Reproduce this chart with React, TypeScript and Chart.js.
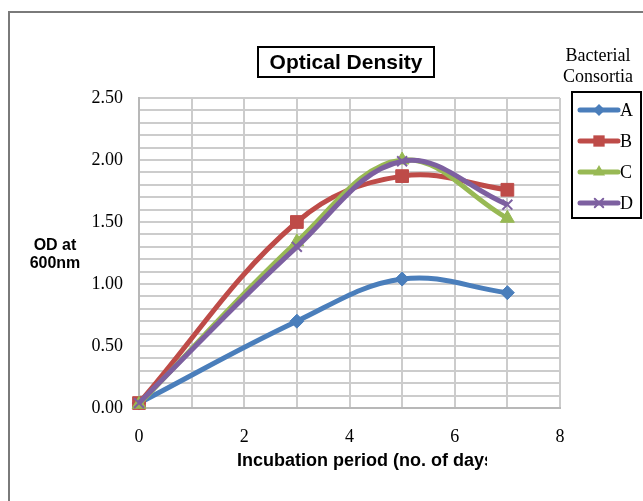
import React, { useEffect, useRef } from "react";
import { Chart, registerables } from "chart.js";

Chart.register(...registerables);

const days = [0, 3, 5, 7];
const seriesNames = ["A", "B", "C", "D"];
const seriesA = [0.04, 0.7, 1.04, 0.93];
const seriesB = [0.04, 1.5, 1.87, 1.76];
const seriesC = [0.03, 1.34, 2.0, 1.53];
const seriesD = [0.04, 1.3, 1.99, 1.64];
const colors = ["#4A7EBB", "#BE4B48", "#98B954", "#7D60A0"];
const pointStyles = ["rectRot", "rect", "triangle", "crossRot"];
const pointRadii = [7, 9, 8, 7];
const chartTitle = "Optical Density";
const legendTitle = ["Bacterial", "Consortia"];
const yTitle = ["OD at", "600nm"];
const xTitle = "Incubation period (no. of days)";

const SANS = "'Liberation Sans', Arial, sans-serif";
const SERIF = "'Liberation Serif', 'Times New Roman', serif";

function drawMarker(ctx: CanvasRenderingContext2D, style: string, x: number, y: number, r: number, color: string) {
  ctx.save();
  ctx.fillStyle = color;
  ctx.strokeStyle = color;
  ctx.lineWidth = 2;
  ctx.beginPath();
  if (style === "rectRot") {
    ctx.moveTo(x, y - r);
    ctx.lineTo(x + r, y);
    ctx.lineTo(x, y + r);
    ctx.lineTo(x - r, y);
    ctx.closePath();
    ctx.fill();
  } else if (style === "rect") {
    const s = r * Math.SQRT1_2;
    ctx.rect(x - s, y - s, 2 * s, 2 * s);
    ctx.fill();
  } else if (style === "triangle") {
    ctx.moveTo(x, y - r);
    ctx.lineTo(x + r * 0.866, y + r * 0.5);
    ctx.lineTo(x - r * 0.866, y + r * 0.5);
    ctx.closePath();
    ctx.fill();
  } else {
    const s = r * Math.SQRT1_2;
    ctx.moveTo(x - s, y - s);
    ctx.lineTo(x + s, y + s);
    ctx.moveTo(x + s, y - s);
    ctx.lineTo(x - s, y + s);
    ctx.stroke();
  }
  ctx.restore();
}

const decorPlugin = {
  id: "decor",
  afterDraw(chart: any) {
    const ctx: CanvasRenderingContext2D = chart.ctx;
    ctx.save();
    // outer frame (left and top)
    ctx.strokeStyle = "#7a7a7a";
    ctx.lineWidth = 2;
    ctx.beginPath();
    ctx.moveTo(9, 501);
    ctx.lineTo(9, 12);
    ctx.lineTo(643, 12);
    ctx.stroke();

    // title box
    ctx.strokeStyle = "#000";
    ctx.lineWidth = 2;
    ctx.strokeRect(258, 47, 176, 30);
    ctx.fillStyle = "#000";
    ctx.font = `bold 21px ${SANS}`;
    ctx.textAlign = "center";
    ctx.textBaseline = "middle";
    ctx.fillText(chartTitle, 346, 63);

    // legend title
    ctx.font = `18px ${SERIF}`;
    ctx.fillText(legendTitle[0], 598, 56);
    ctx.fillText(legendTitle[1], 598, 77);

    // legend box
    ctx.strokeRect(572, 92, 69, 126);
    for (let i = 0; i < seriesNames.length; i++) {
      const y = 110 + i * 31;
      ctx.strokeStyle = colors[i];
      ctx.lineWidth = 5;
      ctx.lineCap = "round";
      ctx.beginPath();
      ctx.moveTo(580, y);
      ctx.lineTo(618, y);
      ctx.stroke();
      drawMarker(ctx, pointStyles[i], 599, y, pointRadii[i] - 1, colors[i]);
      ctx.fillStyle = "#000";
      ctx.font = `18px ${SERIF}`;
      ctx.textAlign = "left";
      ctx.fillText(seriesNames[i], 620, y + 1);
    }

    // y axis title
    ctx.font = `bold 16px ${SANS}`;
    ctx.textAlign = "center";
    ctx.fillStyle = "#000";
    ctx.fillText(yTitle[0], 55, 246);
    ctx.fillText(yTitle[1], 55, 264);

    // x axis title (clipped on the right as in the original)
    ctx.save();
    ctx.beginPath();
    ctx.rect(0, 440, 487, 40);
    ctx.clip();
    ctx.font = `bold 18px ${SANS}`;
    ctx.textAlign = "left";
    ctx.fillText(xTitle, 237, 461);
    ctx.restore();

    ctx.restore();
  },
};

export default function App() {
  const ref = useRef<HTMLCanvasElement | null>(null);
  useEffect(() => {
    if (!ref.current) return;
    const all = [seriesA, seriesB, seriesC, seriesD];
    const chart = new Chart(ref.current, {
      type: "line",
      data: {
        datasets: all.map((vals, i) => ({
          label: seriesNames[i],
          data: days.map((d, j) => ({ x: d, y: vals[j] })),
          borderColor: colors[i],
          backgroundColor: colors[i],
          borderWidth: 5,
          pointStyle: pointStyles[i] as any,
          pointRadius: pointRadii[i],
          pointBorderWidth: i === 3 ? 2 : 1,
          pointBorderColor: colors[i],
          pointBackgroundColor: colors[i],
          tension: 0.38,
          clip: false as any,
          order: 3 - i,
        })),
      },
      options: {
        animation: false,
        responsive: false,
        layout: { padding: { left: 0, top: 98, right: 83, bottom: 0 } },
        plugins: {
          legend: { display: false },
          title: { display: false },
          tooltip: { enabled: false },
        },
        scales: {
          x: {
            type: "linear",
            min: 0,
            max: 8,
            afterFit: (s: any) => {
              s.height = 93;
            },
            grid: { color: "#cccccc", lineWidth: 2, drawTicks: false },
            border: { color: "#b8b8b8", width: 2 },
            ticks: {
              stepSize: 1,
              autoSkip: false,
              maxRotation: 0,
              padding: 18,
              color: "#000",
              font: { family: SERIF, size: 18 },
              callback: (v: any) => (Math.round(v) % 2 === 0 ? String(Math.round(v)) : ""),
            },
          },
          y: {
            type: "linear",
            min: 0,
            max: 2.5,
            afterFit: (s: any) => {
              s.width = 139;
            },
            grid: { color: "#cccccc", lineWidth: 2, drawTicks: false },
            border: { color: "#b8b8b8", width: 2 },
            ticks: {
              stepSize: 0.1,
              autoSkip: false,
              padding: 16,
              color: "#000",
              font: { family: SERIF, size: 18 },
              callback: (v: any) => (Math.round(v * 100) % 50 === 0 ? Number(v).toFixed(2) : ""),
            },
          },
        },
      },
      plugins: [decorPlugin],
    });
    return () => chart.destroy();
  }, []);
  return (
    <div style={{ position: "absolute", left: 0, top: 0, width: 643, height: 501, background: "#fff" }}>
      <canvas ref={ref} width={643} height={501} />
    </div>
  );
}
